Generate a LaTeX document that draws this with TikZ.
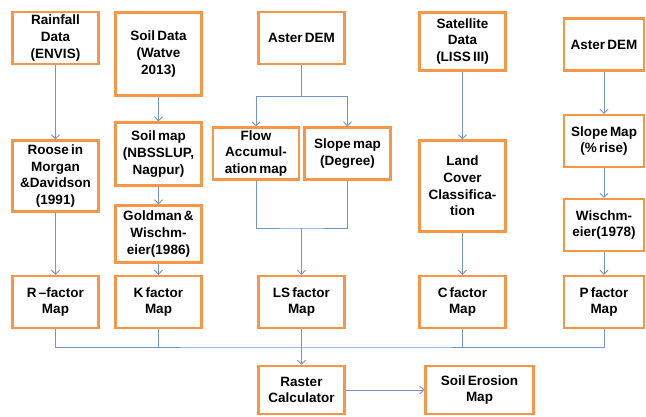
\documentclass[tikz,border=0pt]{standalone}
\usepackage{fontspec}
\setmainfont[WordSpace=0.6]{Liberation Sans}
\usetikzlibrary{arrows.meta}
\definecolor{boxorange}{HTML}{F79646}
\definecolor{linkblue}{HTML}{6F95CC}
\tikzset{
  box/.style={draw=boxorange, line width=2.4pt, fill=white, inner sep=0pt,
    minimum width=86pt, minimum height=#1, align=center,
    font=\fontsize{13.5}{16.7}\selectfont\bfseries},
  box/.default=52pt,
  link/.style={draw=linkblue, line width=0.9pt},
  arr/.style={link, -{Straight Barb[length=4pt,width=8pt]}}
}
\begin{document}
\begin{tikzpicture}[x=1pt, y=-1pt]
  \useasboundingbox (0,0) rectangle (646,417);
  % inputs
  \node[box] (rain) at (55.5,38) {Rainfall\\Data\\(ENVIS)};
  \node[box=83pt] (soil) at (158.5,54) {Soil Data\\(Watve\\2013)};
  \node[box] (dem1) at (301.5,38) {Aster DEM};
  \node[box=58pt] (sat) at (462.5,41.5) {Satellite\\Data\\(LISS III)};
  \node[box, minimum width=80pt] (dem2) at (604,44.5) {Aster DEM};
  % intermediate steps
  \node[box=71pt] (roose) at (55.5,176) {Roose in\\Morgan\\\&Davidson\\(1991)};
  \node[box=63pt] (soilmap) at (158.5,154) {Soil map\\(NBSSLUP,\\Nagpur)};
  \node[box=57pt] (gold) at (158.5,234) {Goldman \&\\Wischm-\\eier(1986)};
  \node[box] (flow) at (256,153.5) {Flow\\Accumul-\\ation map};
  \node[box] (slope1) at (347.5,153.5) {Slope map\\(Degree)};
  \node[box=91pt] (land) at (462.5,186) {Land\\Cover\\Classifica-\\tion};
  \node[box, minimum width=80pt] (slope2) at (604,141) {Slope Map\\(\% rise)};
  \node[box, minimum width=80pt] (wisch) at (604,225) {Wischm-\\eier(1978)};
  % factor maps
  \node[box] (rf) at (55.5,302) {R –factor\\Map};
  \node[box] (kf) at (158.5,302) {K factor\\Map};
  \node[box] (ls) at (301.5,302) {LS factor\\Map};
  \node[box] (cf) at (462.5,302) {C factor\\Map};
  \node[box, minimum width=80pt] (pf) at (604,302) {P factor\\Map};
  % output
  \node[box=48pt] (raster) at (301.5,390) {Raster\\Calculator};
  \node[box=48pt, minimum width=108pt] (erosion) at (479.5,390) {Soil Erosion\\Map};

  \coordinate (split) at (301.5,96);
  \coordinate (merge) at (301.5,228);
  \coordinate (bus) at (301.5,347);

  \draw[arr] (rain) -- (roose);
  \draw[arr] (roose) -- (rf);
  \draw[arr] (soil) -- (soilmap);
  \draw[arr] (soilmap) -- (gold);
  \draw[arr] (gold) -- (kf);
  \draw[link] (dem1) -- (split);
  \draw[arr] (split) -| (flow);
  \draw[arr] (split) -| (slope1);
  \draw[link] (flow) |- (merge) -| (slope1);
  \draw[arr] (merge) -- (ls);
  \draw[arr] (sat) -- (land);
  \draw[arr] (land) -- (cf);
  \draw[arr] (dem2) -- (slope2);
  \draw[arr] (slope2) -- (wisch);
  \draw[arr] (wisch) -- (pf);
  \begin{scope}[link]
    \draw (rf) |- (bus) -| (pf);
    \draw (kf) -- (kf |- bus);
    \draw (cf) -- (cf |- bus);
  \end{scope}
  \draw[arr] (ls) -- (raster);
  \draw[arr] (raster) -- (erosion);
\end{tikzpicture}
\end{document}
